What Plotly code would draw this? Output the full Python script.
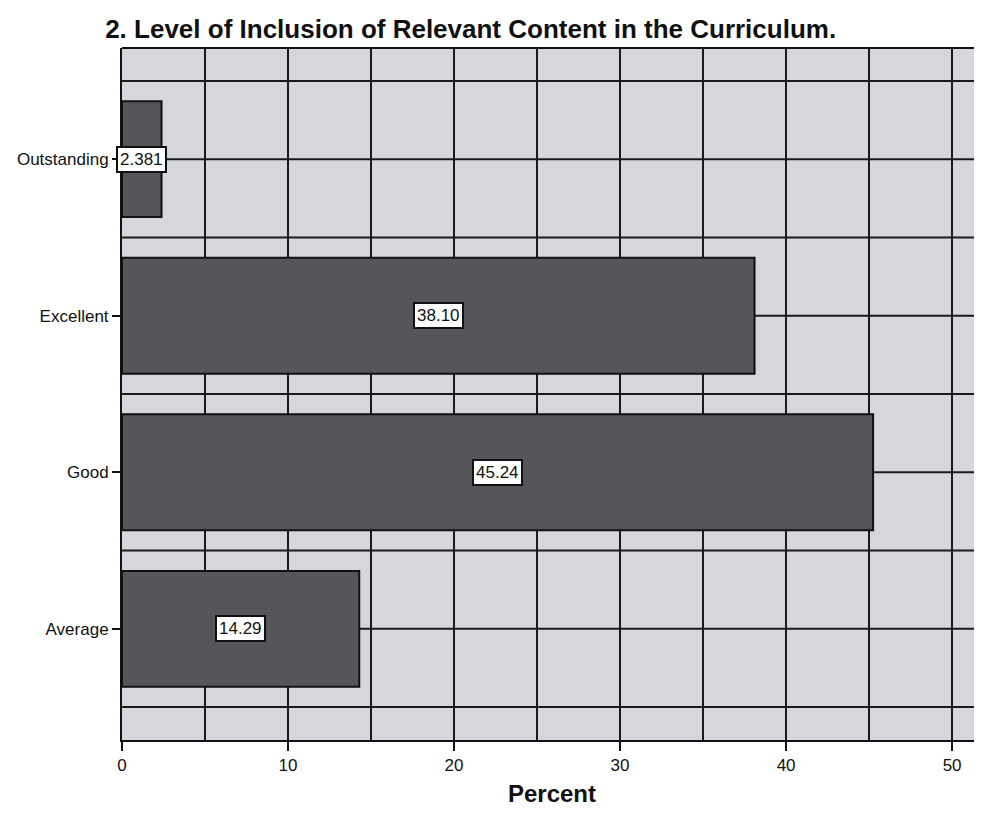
import plotly.graph_objects as go

categories = ["Average", "Good", "Excellent", "Outstanding"]
percents = [14.29, 45.24, 38.10, 2.381]
labels = ["14.29", "45.24", "38.10", "2.381"]
x_ticks = [0, 10, 20, 30, 40, 50]

FONT = "Liberation Sans, Arial, sans-serif"

fig = go.Figure()
fig.add_trace(go.Bar(
    x=percents, y=list(range(len(categories))), orientation="h",
    width=0.74,
    marker=dict(color="#55555b", line=dict(color="#111111", width=2)),
    hoverinfo="skip",
))

for i, (v, t) in enumerate(zip(percents, labels)):
    fig.add_annotation(
        x=v / 2, y=i, xref="x", yref="y", text=t, showarrow=False,
        font=dict(family=FONT, size=17, color="#111111"),
        bgcolor="white", bordercolor="#111111", borderwidth=2, borderpad=2,
    )

# horizontal grid lines every half category
for k in range(-1, 8):
    yv = k / 2
    fig.add_shape(type="line", xref="paper", yref="y", x0=0, x1=1, y0=yv, y1=yv,
                  line=dict(color="#1a1a1a", width=2), layer="below")

fig.update_layout(
    width=974, height=799,
    margin=dict(l=114, r=0, t=40, b=67),
    paper_bgcolor="white", plot_bgcolor="#d5d7dc",
    showlegend=False,
    title=dict(text="<b>2. Level of Inclusion of Relevant Content in the Curriculum.</b>",
               x=0.475, xanchor="center", y=0.974, yanchor="middle",
               font=dict(family=FONT, size=26, color="#111111")),
    xaxis=dict(range=[0, 51.8], tickvals=x_ticks, ticks="outside", ticklen=9, tickwidth=2,
               tickcolor="#111111", showgrid=True, gridcolor="#1a1a1a", gridwidth=2,
               zeroline=False, showline=True, linecolor="#111111", linewidth=2,
               tickfont=dict(family=FONT, size=17, color="#111111"),
               title=dict(text="<b>Percent</b>", standoff=14,
                          font=dict(family=FONT, size=24, color="#111111"))),
    yaxis=dict(range=[-0.71, 3.71], tickvals=list(range(len(categories))), ticktext=categories,
               ticks="outside", ticklen=8, tickwidth=1.5, tickcolor="#111111",
               showgrid=False, zeroline=False, showline=True, linecolor="#111111", linewidth=2,
               tickfont=dict(family=FONT, size=17, color="#111111")),
)
# vertical minor grid lines at every 5
fig.update_xaxes(minor=dict(dtick=5, showgrid=True, gridcolor="#1a1a1a", gridwidth=2, ticks=""))
fig.add_shape(type="line", xref="paper", yref="paper", x0=0, x1=1, y0=1, y1=1,
              line=dict(color="#111111", width=2))

fig.write_html("out.html")
